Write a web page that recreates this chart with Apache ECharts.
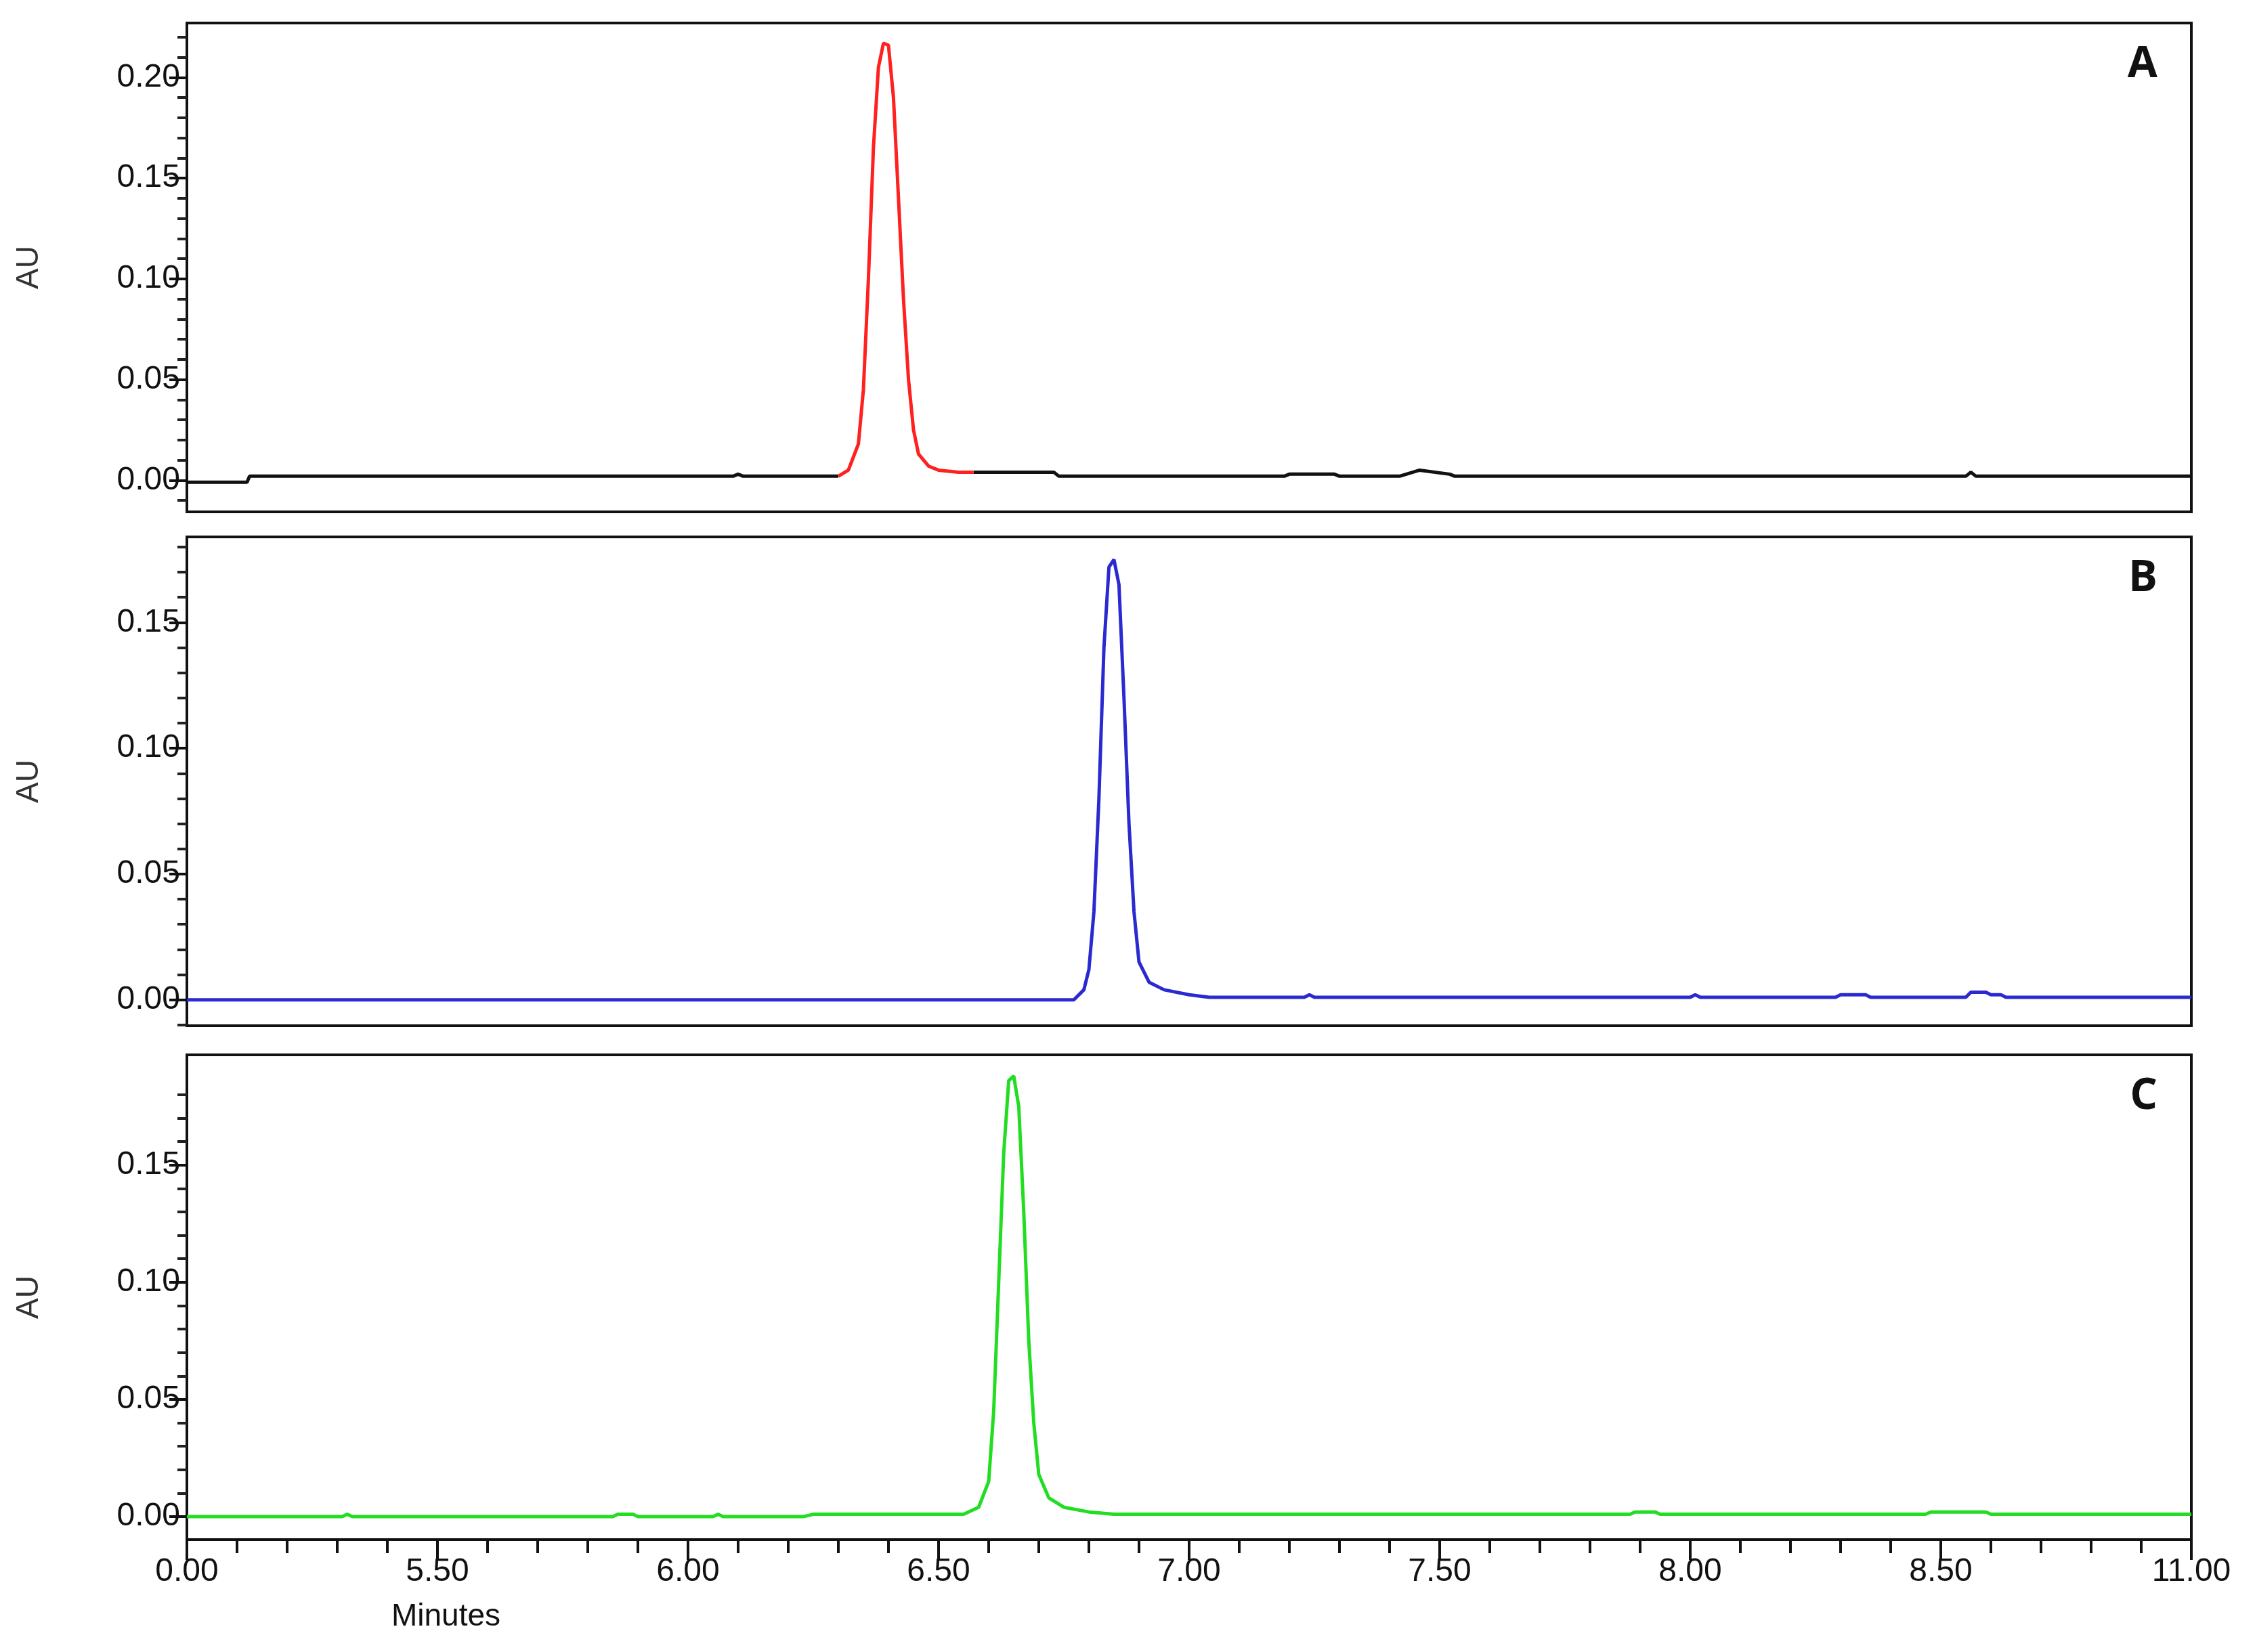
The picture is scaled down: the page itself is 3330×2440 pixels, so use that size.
<!DOCTYPE html>
<html>
<head>
<meta charset="utf-8">
<script src="https://cdn.jsdelivr.net/npm/echarts@6/dist/echarts.min.js"></script>
<style>html,body{margin:0;padding:0;background:#fff}#chart{width:3330px;height:2440px}</style>
</head>
<body>
<div id="chart"></div>
<script>
// 三段色谱图 A/B/C，共用时间轴（标签按原图照写）
const xTickValues = [5.0, 5.5, 6.0, 6.5, 7.0, 7.5, 8.0, 8.5, 9.0]
const xTickLabels = ['0.00', '5.50', '6.00', '6.50', '7.00', '7.50', '8.00', '8.50', '11.00']
const xMinorTicks = [5.1, 5.2, 5.3, 5.4, 5.6, 5.7, 5.8, 5.9, 6.1, 6.2, 6.3, 6.4, 6.6, 6.7, 6.8, 6.9,
  7.1, 7.2, 7.3, 7.4, 7.6, 7.7, 7.8, 7.9, 8.1, 8.2, 8.3, 8.4, 8.6, 8.7, 8.8, 8.9]
const yMajorA = [0, 0.05, 0.1, 0.15, 0.2]
const yMajorBC = [0, 0.05, 0.1, 0.15]
const yMinorA = [-0.01, 0.01, 0.02, 0.03, 0.04, 0.06, 0.07, 0.08, 0.09, 0.11, 0.12, 0.13, 0.14, 0.16, 0.17, 0.18, 0.19, 0.21, 0.22]
const yMinorBC = [-0.01, 0.01, 0.02, 0.03, 0.04, 0.06, 0.07, 0.08, 0.09, 0.11, 0.12, 0.13, 0.14, 0.16, 0.17, 0.18]
const panelLabels = ['A', 'B', 'C']

// A：黑色基线 + 红色主峰
const traceA = [[5.0, -0.001], [5.12, -0.001], [5.125, 0.002], [6.09, 0.002], [6.10, 0.003], [6.11, 0.002],
  [6.30, 0.002], [6.301, null], [6.57, 0.004], [6.73, 0.004], [6.74, 0.002], [7.19, 0.002], [7.20, 0.003],
  [7.29, 0.003], [7.30, 0.002], [7.42, 0.002], [7.46, 0.005], [7.52, 0.003], [7.53, 0.002], [8.55, 0.002],
  [8.56, 0.004], [8.57, 0.002], [9.0, 0.002]]
const peakA = [[6.30, 0.002], [6.32, 0.005], [6.34, 0.018], [6.35, 0.045], [6.36, 0.10], [6.37, 0.165],
  [6.38, 0.205], [6.39, 0.217], [6.40, 0.216], [6.41, 0.19], [6.42, 0.14], [6.43, 0.09], [6.44, 0.05],
  [6.45, 0.025], [6.46, 0.013], [6.48, 0.007], [6.50, 0.005], [6.54, 0.004], [6.57, 0.004]]
// B：蓝色
const traceB = [[5.0, 0.0], [6.77, 0.0], [6.79, 0.004], [6.80, 0.012], [6.81, 0.035], [6.82, 0.08],
  [6.83, 0.14], [6.84, 0.172], [6.85, 0.175], [6.86, 0.165], [6.87, 0.12], [6.88, 0.07], [6.89, 0.035],
  [6.90, 0.015], [6.92, 0.007], [6.95, 0.004], [7.00, 0.002], [7.04, 0.001], [7.23, 0.001], [7.24, 0.002],
  [7.25, 0.001], [8.00, 0.001], [8.01, 0.002], [8.02, 0.001], [8.29, 0.001], [8.30, 0.002], [8.35, 0.002],
  [8.36, 0.001], [8.55, 0.001], [8.56, 0.003], [8.59, 0.003], [8.60, 0.002], [8.62, 0.002], [8.63, 0.001], [9.0, 0.001]]
// C：绿色
const traceC = [[5.0, 0.0], [5.31, 0.0], [5.32, 0.001], [5.33, 0.0], [5.85, 0.0], [5.86, 0.001], [5.89, 0.001],
  [5.90, 0.0], [6.05, 0.0], [6.06, 0.001], [6.07, 0.0], [6.23, 0.0], [6.25, 0.001], [6.55, 0.001],
  [6.58, 0.004], [6.60, 0.015], [6.61, 0.045], [6.62, 0.10], [6.63, 0.155], [6.64, 0.186], [6.65, 0.188],
  [6.66, 0.175], [6.67, 0.13], [6.68, 0.075], [6.69, 0.04], [6.70, 0.018], [6.72, 0.008], [6.75, 0.004],
  [6.80, 0.002], [6.85, 0.001], [7.88, 0.001], [7.89, 0.002], [7.93, 0.002], [7.94, 0.001], [8.47, 0.001],
  [8.48, 0.002], [8.59, 0.002], [8.60, 0.001], [9.0, 0.001]]

const panels = [
  { top: 34, height: 722, min: -0.0157, max: 0.227, major: yMajorA, minor: yMinorA },
  { top: 793, height: 722, min: -0.0103, max: 0.184, major: yMajorBC, minor: yMinorBC },
  { top: 1558, height: 716, min: -0.0098, max: 0.197, major: yMajorBC, minor: yMinorBC },
]

const font = '"Liberation Sans Narrow", "Liberation Sans", Arial, sans-serif'
const black = '#111'

const grid = [], xAxis = [], yAxis = []
panels.forEach((p, i) => {
  const last = i === panels.length - 1
  grid.push({ left: 276, right: 94, top: p.top, height: p.height, show: true,
    borderColor: black, borderWidth: 4, backgroundColor: 'transparent' })
  xAxis.push({ type: 'value', gridIndex: i, position: 'bottom', min: 5, max: 9, splitLine: { show: false },
    axisLine: { show: false, onZero: false },
    axisTick: { show: last, customValues: xTickValues, length: 30, inside: false, lineStyle: { color: black, width: 4 } },
    axisLabel: { show: last, customValues: xTickValues, margin: 24, fontSize: 48, color: black, fontFamily: font,
      formatter: v => xTickLabels[xTickValues.findIndex(t => Math.abs(t - v) < 1e-6)] } })
  yAxis.push({ type: 'value', gridIndex: i, position: 'left', min: p.min, max: p.max, splitLine: { show: false },
    name: 'AU', nameLocation: 'middle', nameGap: 210, nameRotate: 90,
    nameTextStyle: { fontSize: 46, color: '#333', fontFamily: font },
    axisLine: { show: true, onZero: false, lineStyle: { color: black, width: 4 } },
    axisTick: { show: true, customValues: p.major, length: 26, lineStyle: { color: black, width: 4 } },
    axisLabel: { customValues: p.major, margin: 10, fontSize: 48, color: black, fontFamily: font,
      formatter: v => v.toFixed(2) } })
})
// 次刻度
panels.forEach((p, i) => {
  yAxis.push({ type: 'value', gridIndex: i, position: 'left', offset: 0, min: p.min, max: p.max, splitLine: { show: false },
    axisLine: { show: false, onZero: false }, axisLabel: { show: false },
    axisTick: { show: true, customValues: p.minor, length: 14, lineStyle: { color: '#222', width: 4 } } })
})
xAxis.push({ type: 'value', gridIndex: 2, position: 'bottom', offset: 0, min: 5, max: 9, splitLine: { show: false },
  axisLine: { show: false, onZero: false }, axisLabel: { show: false },
  axisTick: { show: true, customValues: xMinorTicks, length: 20, lineStyle: { color: black, width: 4 } } })

function line(data, idx, color) {
  return { type: 'line', data, xAxisIndex: idx, yAxisIndex: idx, showSymbol: false, connectNulls: false,
    lineStyle: { color, width: 5 }, animation: false, z: 3 }
}

const chart = echarts.init(document.getElementById('chart'))
chart.setOption({
  backgroundColor: '#fff',
  animation: false,
  grid, xAxis, yAxis,
  series: [
    line(traceA, 0, '#111'),
    line(peakA, 0, '#ff2020'),
    line(traceB, 1, '#2a2ad0'),
    line(traceC, 2, '#22dd22'),
  ],
  graphic: [
    ...panels.map((p, i) => ({ type: 'text', right: 94 + 50, top: p.top + 30,
      style: { text: panelLabels[i], fontSize: 64, fontWeight: 'bold', fill: black, fontFamily: '"Open Sans", sans-serif' } })),
    { type: 'text', left: 578, top: 2365,
      style: { text: 'Minutes', fontSize: 46, fill: black, fontFamily: font } },
  ],
})
</script>
</body>
</html>
